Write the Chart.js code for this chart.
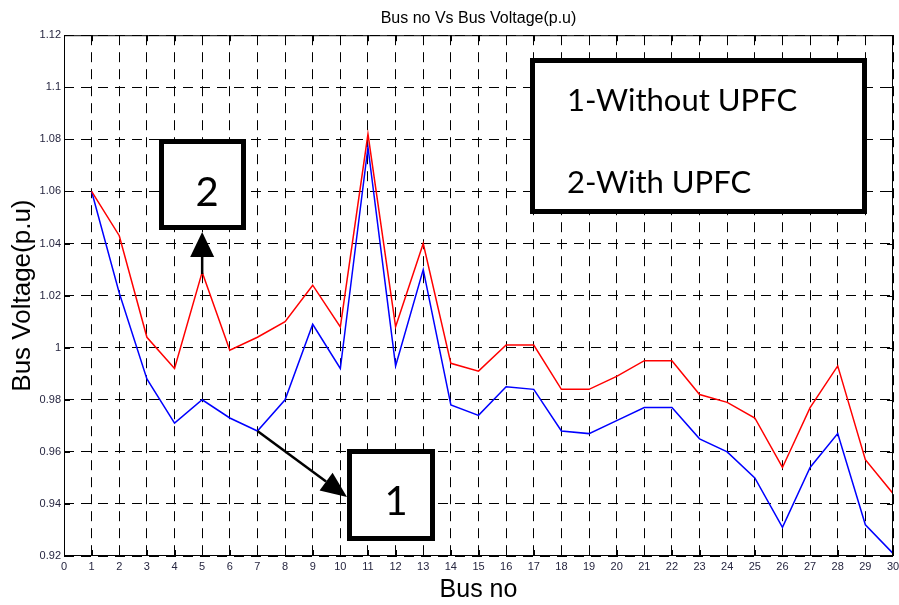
<!DOCTYPE html>
<html>
<head>
<meta charset="utf-8">
<script src="https://cdn.jsdelivr.net/npm/chart.js@4.4.1/dist/chart.umd.min.js"></script>
<style>
  html, body { margin: 0; padding: 0; background: #fff; }
  canvas { display: block; }
</style>
</head>
<body>
<canvas id="mychart" width="899" height="605"></canvas>
<script>
const busNo = [1, 2, 3, 4, 5, 6, 7, 8, 9, 10, 11, 12, 13, 14, 15, 16, 17, 18, 19, 20, 21, 22, 23, 24, 25, 26, 27, 28, 29, 30];
const withoutUpfc = [1.060, 1.021, 0.988, 0.971, 0.980, 0.973, 0.968, 0.980, 1.009, 0.992, 1.077, 0.993, 1.030, 0.978, 0.974, 0.985, 0.984, 0.968, 0.967, 0.972, 0.977, 0.977, 0.965, 0.960, 0.950, 0.931, 0.954, 0.967, 0.932, 0.921];
const withUpfc = [1.060, 1.043, 1.004, 0.992, 1.029, 0.999, 1.004, 1.010, 1.024, 1.008, 1.082, 1.008, 1.040, 0.994, 0.991, 1.001, 1.001, 0.984, 0.984, 0.989, 0.995, 0.995, 0.982, 0.979, 0.973, 0.954, 0.977, 0.993, 0.957, 0.944];

const xTicks = [0, 1, 2, 3, 4, 5, 6, 7, 8, 9, 10, 11, 12, 13, 14, 15, 16, 17, 18, 19, 20, 21, 22, 23, 24, 25, 26, 27, 28, 29, 30];
const yTicks = [0.92, 0.94, 0.96, 0.98, 1.00, 1.02, 1.04, 1.06, 1.08, 1.10, 1.12];
const yTickLabels = ['0.92', '0.94', '0.96', '0.98', '1', '1.02', '1.04', '1.06', '1.08', '1.1', '1.12'];

const legendLines = ['1-Without UPFC', '2-With UPFC'];

Chart.defaults.font.family = '"Liberation Sans", Arial, sans-serif';

// frame, inward ticks and the hand-drawn boxes/arrows
const decorations = {
    id: 'decorations',
    afterDraw(chart) {
        const ctx = chart.ctx;
        const a = chart.chartArea;
        const xs = chart.scales.x, ys = chart.scales.y;
        ctx.save();
        ctx.strokeStyle = '#000';
        ctx.lineWidth = 1;
        ctx.strokeRect(a.left + 0.5, a.top + 0.5, a.right - a.left - 1, a.bottom - a.top - 1);
        ctx.beginPath();
        xTicks.forEach(v => {
            const px = Math.round(xs.getPixelForValue(v)) + 0.5;
            ctx.moveTo(px, a.bottom); ctx.lineTo(px, a.bottom - 6);
            ctx.moveTo(px, a.top); ctx.lineTo(px, a.top + 6);
        });
        yTicks.forEach(v => {
            const py = Math.round(ys.getPixelForValue(v)) + 0.5;
            ctx.moveTo(a.left, py); ctx.lineTo(a.left + 6, py);
            ctx.moveTo(a.right, py); ctx.lineTo(a.right - 6, py);
        });
        ctx.stroke();

        function box(x, y, w, h) {
            ctx.fillStyle = '#fff';
            ctx.fillRect(x, y, w, h);
            ctx.lineWidth = 5;
            ctx.strokeStyle = '#000';
            ctx.strokeRect(x, y, w, h);
        }
        function arrow(x0, y0, x1, y1, len, half, lw) {
            const ang = Math.atan2(y1 - y0, x1 - x0);
            const bx = x1 - len * Math.cos(ang), by = y1 - len * Math.sin(ang);
            ctx.lineWidth = lw;
            ctx.strokeStyle = '#000';
            ctx.beginPath();
            ctx.moveTo(x0, y0); ctx.lineTo(bx, by);
            ctx.stroke();
            ctx.fillStyle = '#000';
            ctx.beginPath();
            ctx.moveTo(x1, y1);
            ctx.lineTo(bx + half * Math.sin(ang), by - half * Math.cos(ang));
            ctx.lineTo(bx - half * Math.sin(ang), by + half * Math.cos(ang));
            ctx.closePath();
            ctx.fill();
        }

        // legend box
        box(532.5, 60.5, 332, 151);
        ctx.fillStyle = '#000';
        ctx.font = '31px Lato, "Open Sans", sans-serif';
        ctx.textAlign = 'left';
        ctx.textBaseline = 'alphabetic';
        ctx.fillText(legendLines[0], 567, 111);
        ctx.fillText(legendLines[1], 567, 193);

        // box 2 with arrow to the red curve at bus 5
        box(161.5, 141.5, 82, 86);
        ctx.fillStyle = '#000';
        ctx.font = '40px Lato, "Open Sans", sans-serif';
        ctx.textAlign = 'center';
        ctx.fillText('2', 207, 206);
        const r5x = xs.getPixelForValue(5), r5y = ys.getPixelForValue(withUpfc[4]);
        arrow(r5x, r5y + 2, r5x, 232, 25, 12, 2.5);

        // box 1 with arrow from the blue curve at bus 7
        box(349.5, 451.5, 83, 87);
        ctx.fillStyle = '#000';
        ctx.font = '40px Lato, "Open Sans", sans-serif';
        ctx.fillText('1', 396, 515);
        const b7x = xs.getPixelForValue(7), b7y = ys.getPixelForValue(withoutUpfc[6]);
        arrow(b7x, b7y, 347, 497, 26, 11, 2.5);

        ctx.restore();
    }
};

const ctx = document.getElementById('mychart');

new Chart(ctx, {
    type: 'line',
    data: {
        datasets: [
            {
                label: 'With UPFC',
                data: busNo.map((b, i) => ({ x: b, y: withUpfc[i] })),
                borderColor: '#ff0000',
                borderWidth: 1.5,
                pointRadius: 0,
                tension: 0
            },
            {
                label: 'Without UPFC',
                data: busNo.map((b, i) => ({ x: b, y: withoutUpfc[i] })),
                borderColor: '#0000ff',
                borderWidth: 1.5,
                pointRadius: 0,
                tension: 0
            }
        ]
    },
    options: {
        responsive: false,
        animation: false,
        devicePixelRatio: 1,
        layout: { padding: { top: 0, left: 0, right: 6, bottom: 0 } },
        plugins: {
            legend: { display: false },
            tooltip: { enabled: false },
            title: {
                display: true,
                text: 'Bus no Vs Bus Voltage(p.u)',
                fullSize: false,
                color: '#000',
                font: { size: 16, weight: 'normal' },
                padding: { top: 9, bottom: 7 }
            }
        },
        scales: {
            x: {
                type: 'linear',
                min: 0,
                max: 30,
                afterBuildTicks: s => { s.ticks = xTicks.map(v => ({ value: v })); },
                afterFit: s => { s.height = 49; s.paddingRight = 0; s.paddingLeft = 0; },
                ticks: {
                    autoSkip: false,
                    maxRotation: 0,
                    padding: 4,
                    color: '#262640',
                    font: { size: 11 },
                    callback: v => String(v)
                },
                grid: { color: '#000', lineWidth: 1, drawTicks: false },
                border: { display: false, dash: [10, 7] },
                title: {
                    display: true,
                    text: 'Bus no',
                    color: '#000',
                    font: { size: 25 },
                    padding: { top: 0, bottom: 0 }
                }
            },
            y: {
                type: 'linear',
                min: 0.92,
                max: 1.12,
                afterBuildTicks: s => { s.ticks = yTicks.map(v => ({ value: v })); },
                afterFit: s => { s.width = 64; },
                ticks: {
                    padding: 3,
                    color: '#262640',
                    font: { size: 11 },
                    callback: (v, i) => yTickLabels[i]
                },
                grid: { color: '#000', lineWidth: 1, drawTicks: false },
                border: { display: false, dash: [10, 7] },
                title: {
                    display: true,
                    text: 'Bus Voltage(p.u)',
                    color: '#000',
                    font: { size: 26 },
                    padding: { top: 7, bottom: 0 }
                }
            }
        }
    },
    plugins: [decorations]
});
</script>
</body>
</html>
